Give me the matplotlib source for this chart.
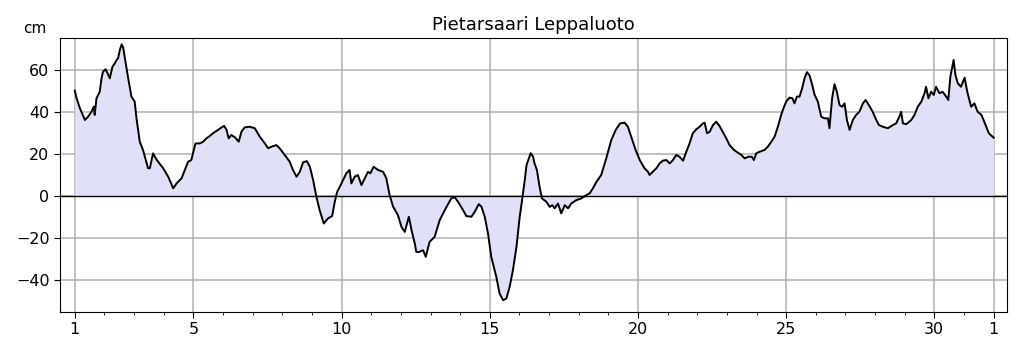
import matplotlib
matplotlib.use("Agg")
import matplotlib.pyplot as plt
import numpy as np

# Sea level, Pietarsaari Leppaluoto (cm), time in days of month
days = [
    1.00, 1.06, 1.17, 1.34, 1.45, 1.56, 1.64, 1.67, 1.73, 1.84, 1.90, 1.95, 2.04, 2.11, 2.18,
    2.27, 2.35, 2.41, 2.46, 2.52, 2.58, 2.63, 2.69, 2.80, 2.91, 3.02, 3.08, 3.19, 3.30, 3.47,
    3.53, 3.64, 3.73, 3.81, 3.98, 4.15, 4.32, 4.43, 4.60, 4.71, 4.82, 4.93, 5.07, 5.22, 5.33,
    5.44, 5.55, 5.66, 5.83, 5.95, 6.04, 6.12, 6.19, 6.28, 6.40, 6.53, 6.62, 6.73, 6.90, 7.07,
    7.24, 7.41, 7.52, 7.63, 7.80, 7.91, 8.08, 8.25, 8.36, 8.48, 8.59, 8.70, 8.83, 8.93, 9.04,
    9.15, 9.26, 9.40, 9.54, 9.68, 9.77, 9.85, 9.94, 10.05, 10.16, 10.27, 10.33, 10.44, 10.55,
    10.67, 10.78, 10.89, 10.97, 11.08, 11.23, 11.40, 11.51, 11.62, 11.74, 11.90, 12.02, 12.13,
    12.27, 12.36, 12.47, 12.52, 12.61, 12.75, 12.84, 12.97, 13.14, 13.31, 13.48, 13.70, 13.82,
    13.93, 14.10, 14.21, 14.38, 14.49, 14.63, 14.72, 14.83, 14.94, 15.05, 15.22, 15.33, 15.45,
    15.56, 15.67, 15.78, 15.90, 16.01, 16.09, 16.18, 16.24, 16.38, 16.46, 16.51, 16.59, 16.68,
    16.76, 16.91, 17.02, 17.11, 17.19, 17.30, 17.41, 17.53, 17.64, 17.75, 17.92, 18.09, 18.26,
    18.37, 18.48, 18.60, 18.76, 18.93, 19.10, 19.25, 19.40, 19.55, 19.66, 19.77, 19.92, 20.06,
    20.22, 20.34, 20.39, 20.50, 20.62, 20.73, 20.84, 20.96, 21.07, 21.18, 21.29, 21.40, 21.52,
    21.63, 21.74, 21.85, 21.97, 22.08, 22.19, 22.25, 22.33, 22.42, 22.53, 22.64, 22.75, 22.86,
    22.98, 23.09, 23.24, 23.37, 23.49, 23.60, 23.73, 23.84, 23.91, 23.99, 24.10, 24.27, 24.38,
    24.50, 24.61, 24.72, 24.83, 24.91, 25.00, 25.11, 25.21, 25.28, 25.36, 25.45, 25.54, 25.62,
    25.70, 25.79, 25.88, 25.96, 26.07, 26.18, 26.29, 26.41, 26.46, 26.55, 26.63, 26.71, 26.80,
    26.89, 26.97, 27.05, 27.14, 27.25, 27.36, 27.47, 27.59, 27.68, 27.79, 27.92, 28.04, 28.13,
    28.26, 28.43, 28.60, 28.71, 28.82, 28.88, 28.94, 29.05, 29.22, 29.33, 29.44, 29.56, 29.67,
    29.72, 29.80, 29.89, 29.98, 30.06, 30.17, 30.28, 30.40, 30.47, 30.54, 30.65, 30.71, 30.79,
    30.90, 31.02, 31.11, 31.24, 31.35, 31.46, 31.59, 31.73, 31.84, 32.00,
]
level = [
    50.0, 46.4, 41.7, 36.1, 37.7, 40.0, 42.4, 38.5, 46.4, 49.5, 55.9, 59.0, 60.2, 58.0, 55.9,
    61.4, 63.0, 64.6, 65.4, 69.4, 72.0, 70.5, 65.4, 55.9, 47.2, 44.8, 36.9, 25.8, 21.9, 13.2,
    13.2, 20.3, 17.9, 16.3, 13.2, 9.2, 3.7, 6.0, 8.4, 12.4, 16.3, 17.1, 25.0, 25.0, 25.8,
    27.4, 28.5, 29.8, 31.4, 32.6, 33.3, 31.4, 27.4, 29.0, 27.9, 25.8, 30.5, 32.6, 32.9, 32.2,
    28.2, 25.0, 22.7, 23.4, 24.2, 22.7, 19.5, 16.3, 12.4, 9.2, 11.5, 16.0, 16.6, 13.9, 7.6,
    -0.3, -6.7, -13.0, -10.6, -9.5, -2.7, 2.0, 4.4, 7.6, 10.8, 12.4, 6.0, 9.2, 10.0,
    5.2, 8.4, 11.5, 10.8, 13.9, 12.4, 11.5, 8.4, 0.5, -5.1, -9.0, -14.6, -17.0,
    -9.8, -16.2, -22.5, -26.5, -26.5, -25.7, -28.8, -21.7, -19.3, -11.4, -6.7, -1.1, -0.6,
    -2.7, -6.7, -9.5, -9.8, -7.5, -3.8, -5.1, -9.8, -17.7, -28.8, -38.3, -46.2, -49.4,
    -48.6, -43.1, -35.2, -24.1, -9.8, -1.9, 7.6, 14.7, 20.4, 18.7, 15.5, 12.4, 4.4,
    -1.1, -2.7, -5.1, -4.3, -5.8, -3.5, -8.2, -4.3, -5.8, -3.5, -1.9, -1.1, 0.5,
    1.3, 3.7, 6.8, 10.0, 17.9, 26.6, 31.4, 34.5, 34.8, 32.9, 28.2, 21.9, 17.1,
    13.2, 11.5, 10.0, 11.5, 13.2, 15.5, 16.8, 17.1, 15.5, 17.1, 19.5, 18.7, 16.8,
    21.0, 25.0, 29.8, 31.7, 32.9, 34.5, 34.8, 29.8, 30.5, 33.7, 35.3, 33.3, 30.5,
    27.4, 24.2, 21.9, 20.6, 19.5, 17.9, 18.7, 18.7, 17.1, 20.3, 21.0, 21.9, 23.4,
    25.8, 28.2, 32.9, 38.5, 41.7, 44.8, 46.7, 46.4, 44.0, 47.2, 47.2, 51.2, 55.9,
    58.8, 57.2, 52.7, 48.0, 44.8, 37.7, 36.9, 36.9, 32.2, 46.4, 53.1, 49.5, 43.2,
    42.4, 44.0, 36.1, 31.4, 36.1, 38.5, 40.0, 44.0, 45.6, 43.2, 40.0, 36.1, 33.7,
    32.9, 32.2, 33.7, 34.5, 37.7, 40.0, 34.5, 34.1, 36.1, 38.5, 42.4, 44.8, 48.8,
    51.9, 46.4, 49.5, 48.0, 51.9, 48.8, 49.5, 47.2, 45.6, 56.7, 64.6, 57.5, 53.5,
    51.9, 56.2, 49.5, 42.4, 44.0, 40.0, 38.5, 33.7, 29.8, 27.7,
]

xtick_pos = [1, 5, 10, 15, 20, 25, 30, 32]
xtick_labels = ["1", "5", "10", "15", "20", "25", "30", "1"]
ytick_pos = [-40, -20, 0, 20, 40, 60]

fig = plt.figure(figsize=(10.19, 3.52), dpi=100)
ax = fig.add_axes([0.0589, 0.1136, 0.9293, 0.7784])

ax.fill_between(days, level, 0, color="#e0e0f8", lw=0, zorder=1)
ax.plot(days, level, color="black", lw=1.4, zorder=3)
ax.axhline(0, color="black", lw=1.0, zorder=2)

ax.set_xlim(0.5, 32.45)
ax.set_ylim(-55, 75)
ax.set_xticks(xtick_pos)
ax.set_xticklabels(xtick_labels)
ax.set_xticks(np.arange(1, 33), minor=True)
ax.set_yticks(ytick_pos)
ax.set_yticklabels(["\u221240", "\u221220", "0", "20", "40", "60"])
ax.tick_params(axis="both", which="major", labelsize=11.5, length=4)
ax.tick_params(axis="x", which="minor", length=2.5)
ax.grid(True, which="major", color="#b0b0b0", lw=1.1, zorder=0)
ax.set_axisbelow(True)

ax.set_title("Pietarsaari Leppaluoto", fontsize=13)
fig.text(0.034, 0.92, "cm", fontsize=11, ha="center", va="center")

fig.savefig("out.png", dpi=100)
